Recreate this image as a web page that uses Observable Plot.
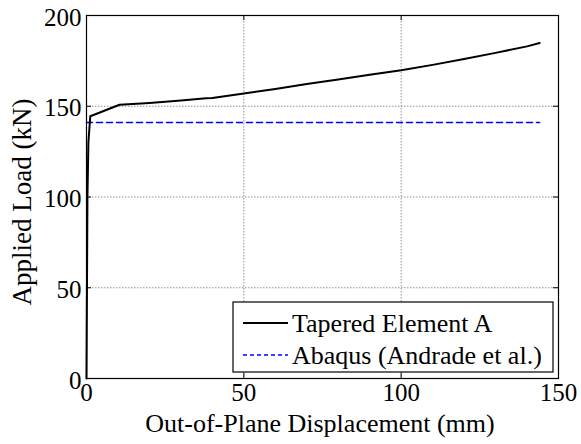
<!DOCTYPE html>
<html>
<head>
<meta charset="utf-8">
<script src="https://cdn.jsdelivr.net/npm/d3@7"></script>
<script src="https://cdn.jsdelivr.net/npm/@observablehq/plot@0.6"></script>
<style>
  html, body { margin: 0; padding: 0; background: #fff; }
  svg, svg text { font-family: "Liberation Serif", "Times New Roman", serif !important; }
</style>
</head>
<body>
<div id="chart"></div>
<script>
// Tapered Element A curve (displacement mm, load kN)
const taperedX = [0, 0.3, 0.6, 1.2, 10.5, 20, 30, 38, 40, 50, 60, 70, 80, 90, 100, 110, 120, 130, 140, 144];
const taperedY = [0, 100, 130, 144.5, 150.8, 151.8, 153.2, 154.4, 154.6, 157, 159.5, 162.3, 164.8, 167.3, 169.8, 172.8, 176, 179.4, 183, 184.8];
// Abaqus (Andrade et al.) constant load
const abaqusX = [0, 144];
const abaqusY = [141, 141];
const xTicks = [0, 50, 100, 150];
const yTicks = [0, 50, 100, 150, 200];
const seriesNames = ["Tapered Element A", "Abaqus (Andrade et al.)"];
const seriesColors = ["#000000", "#0000ff"];

const tapered = taperedX.map((x, i) => ({x, y: taperedY[i]}));
const abaqus = abaqusX.map((x, i) => ({x, y: abaqusY[i]}));

const W = 581, H = 444;
const mL = 86, mR = 23, mT = 15, mB = 66;
const pw = W - mL - mR, ph = H - mT - mB;
const FS = 25;
const FF = "Liberation Serif";

const plot = Plot.plot({
  width: W, height: H,
  marginLeft: mL, marginRight: mR, marginTop: mT, marginBottom: mB,
  style: {fontFamily: FF, fontSize: FS + "px", color: "#000", background: "#fff", overflow: "visible"},
  x: {domain: [0, 150], ticks: xTicks, label: null},
  y: {domain: [0, 200], ticks: yTicks, label: null},
  marks: [
    Plot.gridX(xTicks, {stroke: "#777", strokeOpacity: 1, strokeDasharray: "1.5,1.5", strokeWidth: 0.8}),
    Plot.gridY(yTicks, {stroke: "#777", strokeOpacity: 1, strokeDasharray: "1.5,1.5", strokeWidth: 0.8}),
    Plot.tickX(xTicks, {x: d => d, insetTop: ph - 5, stroke: "#000"}),
    Plot.tickX(xTicks, {x: d => d, insetBottom: ph - 5, stroke: "#000"}),
    Plot.tickY(yTicks, {y: d => d, insetRight: pw - 5, stroke: "#000"}),
    Plot.tickY(yTicks, {y: d => d, insetLeft: pw - 5, stroke: "#000"}),
    Plot.axisX(xTicks, {tickSize: 0, tickPadding: 5, fontSize: FS, fill: "#000", label: null}),
    Plot.axisY(yTicks, {tickSize: 0, tickPadding: 5, dy: 2, fontSize: FS, fill: "#000", label: null}),
    Plot.lineY(abaqus, {x: "x", y: "y", stroke: seriesColors[1], strokeWidth: 1.5, strokeDasharray: "6,4"}),
    Plot.lineY(tapered, {x: "x", y: "y", stroke: seriesColors[0], strokeWidth: 2}),
    Plot.frame({stroke: "#000", strokeWidth: 1.2})
  ]
});

const svg = d3.select(plot);
svg.append("text")
  .attr("x", mL + pw / 2 - 2).attr("y", 432)
  .attr("text-anchor", "middle")
  .attr("font-size", 26).attr("fill", "#000")
  .text("Out-of-Plane Displacement (mm)");
svg.append("text")
  .attr("transform", `translate(31,202) rotate(-90)`)
  .attr("text-anchor", "middle")
  .attr("font-size", 27).attr("fill", "#000")
  .text("Applied Load (kN)");

// Legend box
const lg = svg.append("g");
const lx = 233, ly = 302, lw = 320, lh = 70;
lg.append("rect").attr("x", lx).attr("y", ly).attr("width", lw).attr("height", lh)
  .attr("fill", "#fff").attr("stroke", "#000").attr("stroke-width", 1.2);
const rowsY = [ly + 21, ly + 53];
seriesNames.forEach((name, i) => {
  lg.append("line").attr("x1", lx + 10).attr("x2", lx + 55)
    .attr("y1", rowsY[i]).attr("y2", rowsY[i])
    .attr("stroke", seriesColors[i]).attr("stroke-width", i === 0 ? 2 : 1.5)
    .attr("stroke-dasharray", i === 0 ? null : "4,3");
  lg.append("text").attr("x", lx + 59).attr("y", rowsY[i])
    .attr("dy", "0.35em").attr("text-anchor", "start")
    .attr("font-size", 26).attr("fill", "#000")
    .text(name);
});

svg.selectAll("text").attr("font-family", FF).style("font-family", FF);
document.getElementById("chart").appendChild(plot);
</script>
</body>
</html>
